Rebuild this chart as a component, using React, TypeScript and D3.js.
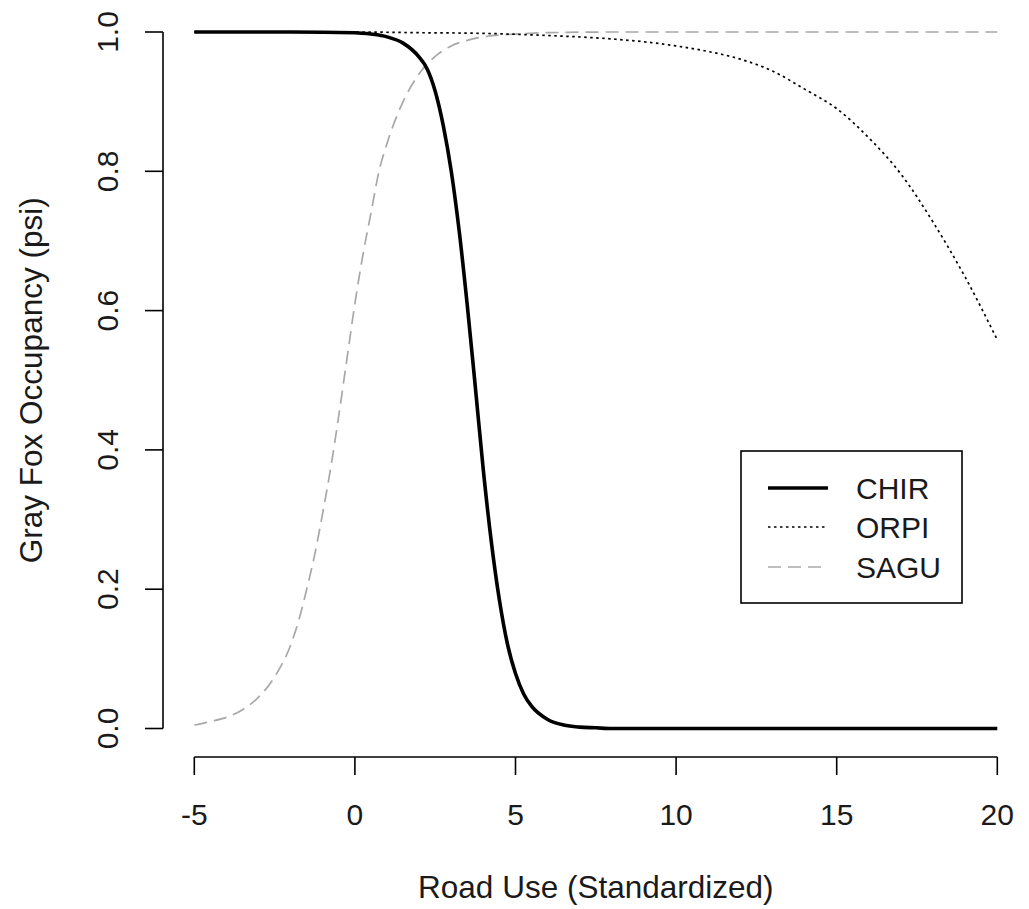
import React from "react";
import * as d3 from "d3";

const xTicks = [-5, 0, 5, 10, 15, 20];
const yTicks = [0, 0.2, 0.4, 0.6, 0.8, 1.0];
const yTickLabels = ["0.0", "0.2", "0.4", "0.6", "0.8", "1.0"];

const seriesNames = ["CHIR", "ORPI", "SAGU"];

const chirX = [-5, -2, 0, 0.5, 1, 1.5, 2, 2.25, 2.5, 2.75, 3, 3.25, 3.5, 3.75, 4, 4.25, 4.5, 4.75, 5, 5.25, 5.5, 6, 6.5, 7, 7.5, 8, 10, 15, 20];
const chirY = [1.0, 1.0, 0.999, 0.997, 0.993, 0.984, 0.964, 0.947, 0.915, 0.866, 0.8, 0.713, 0.607, 0.49, 0.37, 0.267, 0.184, 0.121, 0.079, 0.05, 0.032, 0.013, 0.005, 0.002, 0.001, 0.0, 0.0, 0.0, 0.0];

const orpiX = [-5, 0, 2, 4, 6, 8, 9, 10, 11, 12, 13, 14, 15, 16, 17, 18, 19, 20];
const orpiY = [1.0, 1.0, 0.999, 0.998, 0.995, 0.99, 0.986, 0.98, 0.972, 0.961, 0.944, 0.918, 0.89, 0.848, 0.796, 0.727, 0.648, 0.558];

const saguX = [-5, -4.5, -4, -3.5, -3, -2.5, -2, -1.75, -1.5, -1.25, -1, -0.75, -0.5, -0.25, 0, 0.25, 0.5, 0.75, 1, 1.5, 2, 2.5, 3, 3.5, 4, 5, 6, 8, 20];
const saguY = [0.005, 0.01, 0.016, 0.027, 0.045, 0.074, 0.12, 0.155, 0.2, 0.25, 0.31, 0.375, 0.45, 0.53, 0.61, 0.68, 0.74, 0.8, 0.84, 0.9, 0.94, 0.965, 0.98, 0.988, 0.993, 0.997, 0.999, 1.0, 1.0];

const FONT = "'Liberation Sans', Arial, sans-serif";
const TEXT = "#1a1a1a";

export default function App() {
  const W = 1029, H = 909;
  const x = d3.scaleLinear().domain([-5, 20]).range([194.3, 997.3]);
  const y = d3.scaleLinear().domain([0, 1]).range([728.5, 32]);

  const line = d3
    .line<[number, number]>()
    .x((d) => x(d[0]))
    .y((d) => y(d[1]))
    .curve(d3.curveMonotoneX);

  const zip = (xs: number[], ys: number[]) => xs.map((v, i) => [v, ys[i]] as [number, number]);

  const styles = [
    { stroke: "#000", width: 3.6, dash: "none" },
    { stroke: "#000", width: 1.7, dash: "2.5,3.5" },
    { stroke: "#a8a8a8", width: 1.7, dash: "13,7" },
  ];
  const data = [zip(chirX, chirY), zip(orpiX, orpiY), zip(saguX, saguY)];

  const axisX = 163;
  const axisY = 757;
  const legX = 741, legY = 451, legW = 221, legH = 152;
  const rowY = [488, 527, 567];

  return (
    <svg width={W} height={H} style={{ position: "absolute", left: 0, top: 0, background: "#fff" }}>
      <rect x={0} y={0} width={W} height={H} fill="#fff" />
      {[2, 1, 0].map((i) => (
        <path
          key={seriesNames[i]}
          d={line(data[i]) || ""}
          fill="none"
          stroke={styles[i].stroke}
          strokeWidth={styles[i].width}
          strokeDasharray={styles[i].dash}
          strokeLinejoin="round"
        />
      ))}
      <line x1={axisX} x2={axisX} y1={y(0)} y2={y(1)} stroke="#000" strokeWidth={1.6} />
      {yTicks.map((t, i) => (
        <g key={"yt" + i}>
          <line x1={axisX - 18} x2={axisX} y1={y(t)} y2={y(t)} stroke="#000" strokeWidth={1.6} />
          <text
            transform={`translate(118,${y(t)}) rotate(-90)`}
            textAnchor="middle"
            fontFamily={FONT}
            fontSize={30}
            fill={TEXT}
          >
            {yTickLabels[i]}
          </text>
        </g>
      ))}
      <line x1={x(-5)} x2={x(20)} y1={axisY} y2={axisY} stroke="#000" strokeWidth={1.6} />
      {xTicks.map((t) => (
        <g key={"xt" + t}>
          <line x1={x(t)} x2={x(t)} y1={axisY} y2={axisY + 18} stroke="#000" strokeWidth={1.6} />
          <text x={x(t)} y={825} textAnchor="middle" fontFamily={FONT} fontSize={30} fill={TEXT}>
            {t}
          </text>
        </g>
      ))}
      <text x={(x(-5) + x(20)) / 2} y={898} textAnchor="middle" fontFamily={FONT} fontSize={31.5} fill={TEXT}>
        Road Use (Standardized)
      </text>
      <text
        transform={`translate(42,${(y(0) + y(1)) / 2}) rotate(-90)`}
        textAnchor="middle"
        fontFamily={FONT}
        fontSize={31.5}
        fill={TEXT}
      >
        Gray Fox Occupancy (psi)
      </text>
      <rect x={legX} y={legY} width={legW} height={legH} fill="#fff" stroke="#000" strokeWidth={1.6} />
      {seriesNames.map((n, i) => (
        <g key={"lg" + n}>
          <line
            x1={768}
            x2={828}
            y1={rowY[i]}
            y2={rowY[i]}
            stroke={styles[i].stroke}
            strokeWidth={styles[i].width}
            strokeDasharray={styles[i].dash}
          />
          <text x={856} y={rowY[i] + 11} fontFamily={FONT} fontSize={30} fill={TEXT}>
            {n}
          </text>
        </g>
      ))}
    </svg>
  );
}
